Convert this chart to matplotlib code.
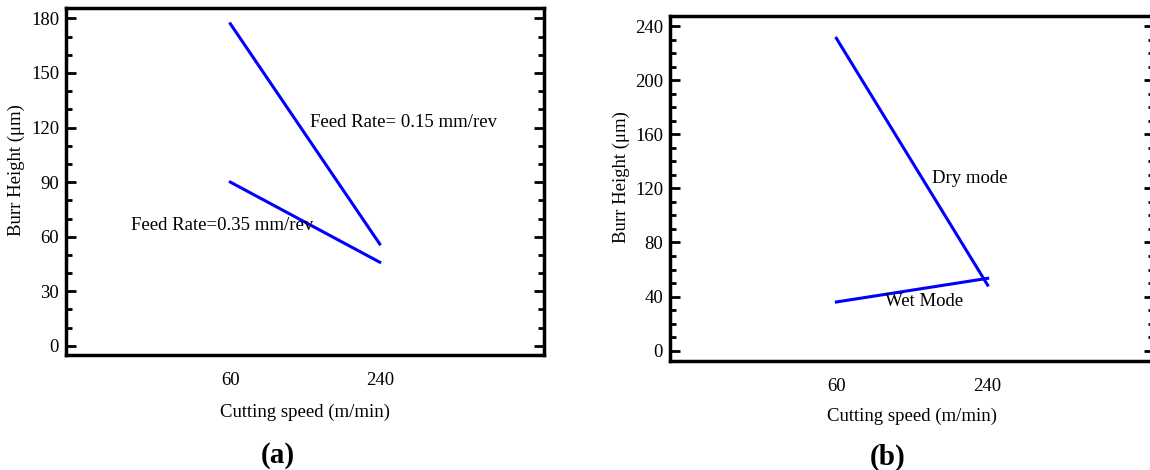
import numpy as np
from matplotlib import pyplot as plt
from matplotlib.ticker import MultipleLocator

plt.rcParams['font.family'] = ['Liberation Serif', 'DejaVu Serif']

# data
speeds = ['60', '240']
feed_015 = [177, 56]
feed_035 = [90, 46]
dry_mode = [231, 48.5]
wet_mode = [36, 53.5]

pos = np.arange(1, len(speeds) + 1)
blue = '#0000ff'
fs = 13.5

fig = plt.figure(figsize=(11.5, 4.7), dpi=100)
ax1 = fig.add_axes([0.0574, 0.2447, 0.4157, 0.7376])
ax2 = fig.add_axes([0.5826, 0.2326, 0.4209, 0.7334])


def style(ax, major, ylim):
    ax.set_xlim(-0.1, 3.1)
    ax.set_ylim(*ylim)
    ax.set_xticks(pos)
    ax.set_xticklabels(speeds)
    ax.yaxis.set_major_locator(MultipleLocator(major))
    ax.yaxis.set_minor_locator(MultipleLocator(10))
    for s in ax.spines.values():
        s.set_linewidth(2.5)
    ax.tick_params(axis='y', which='both', direction='in', left=True, right=True,
                   width=2, labelsize=fs, pad=5)
    ax.tick_params(axis='y', which='major', length=7.2)
    ax.tick_params(axis='y', which='minor', length=4)
    ax.tick_params(axis='x', length=0, labelsize=fs, pad=12.5)
    ax.set_xlabel('Cutting speed (m/min)', fontsize=fs)
    ax.set_ylabel('Burr Height (μm)', fontsize=fs)


# (a)
ax1.plot(pos, feed_015, color=blue, lw=2.2)
ax1.plot(pos, feed_035, color=blue, lw=2.2)
style(ax1, 30, (-5, 185.5))
ax1.text(1.536, 123, 'Feed Rate= 0.15 mm/rev', fontsize=fs, va='center')
ax1.text(0.332, 66, 'Feed Rate=0.35 mm/rev', fontsize=fs, va='center')
ax1.xaxis.set_label_coords(0.5, -0.14)
ax1.yaxis.set_label_coords(-0.085, 0.533)

# (b)
ax2.plot(pos, dry_mode, color=blue, lw=2.2)
ax2.plot(pos, wet_mode, color=blue, lw=2.2)
style(ax2, 40, (-7.4, 247.5))
ax2.text(1.633, 127, 'Dry mode', fontsize=fs, va='center')
ax2.text(1.32, 36, 'Wet Mode', fontsize=fs, va='center')
ax2.xaxis.set_label_coords(0.5, -0.135)
ax2.yaxis.set_label_coords(-0.083, 0.534)

fig.text(0.2416, 0.0319, '(a)', fontsize=21, fontweight='bold', ha='center', va='center')
fig.text(0.7722, 0.028, '(b)', fontsize=21, fontweight='bold', ha='center', va='center')

fig.savefig('out.png', dpi=100)
